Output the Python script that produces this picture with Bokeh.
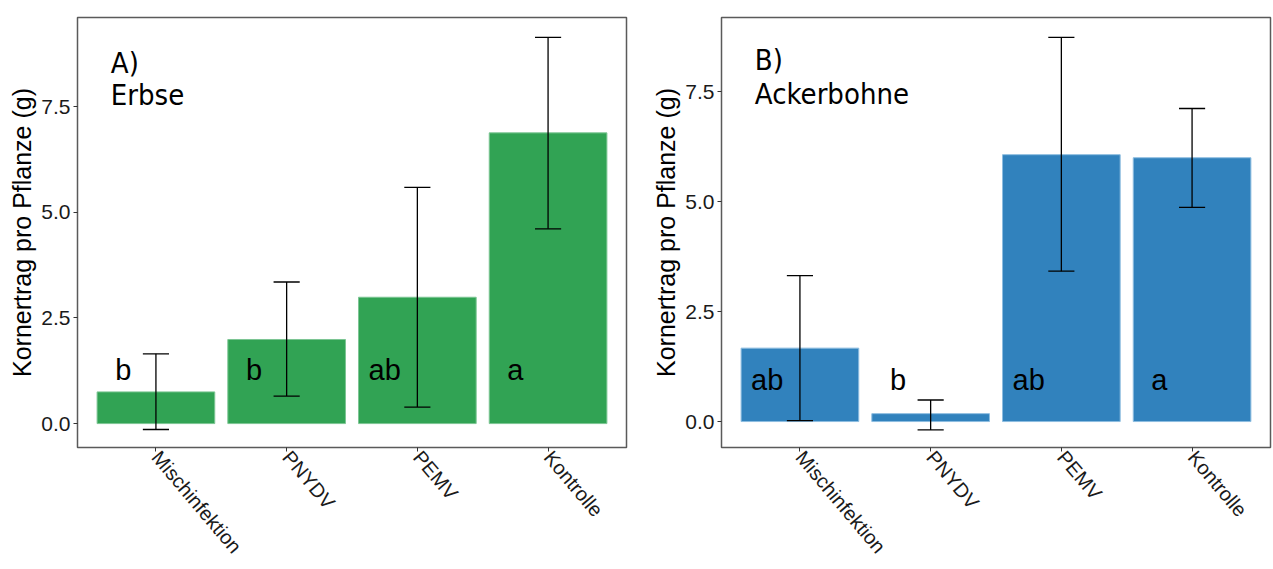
from bokeh.plotting import figure
from bokeh.layouts import row
from bokeh.models import Range1d, FixedTicker, ColumnDataSource
from bokeh.core.properties import value
from bokeh.embed import file_html
from bokeh.resources import INLINE

# Treatments on the x axis
categories = ["Mischinfektion", "PNYDV", "PEMV", "Kontrolle"]

# A) Erbse: mean grain yield per plant (g) with error bar limits
erbse_mean = [0.75, 1.99, 2.99, 6.88]
erbse_lower = [-0.14, 0.65, 0.39, 4.61]
erbse_upper = [1.65, 3.35, 5.59, 9.14]
erbse_letters = ["b", "b", "ab", "a"]

# B) Ackerbohne
bohne_mean = [1.67, 0.18, 6.07, 6.00]
bohne_lower = [0.02, -0.19, 3.42, 4.87]
bohne_upper = [3.32, 0.49, 8.74, 7.12]
bohne_letters = ["ab", "b", "ab", "a"]

y_ticks = [0.0, 2.5, 5.0, 7.5]
y_tick_labels = ["0.0", "2.5", "5.0", "7.5"]

Y_LABEL = "Kornertrag pro Pflanze (g)"
FONT = "Liberation Sans"
TAG_FONT = "DejaVu Sans Condensed"


def make_panel(mean, lower, upper, letters, tag, crop, fill, edge,
               y_lo, y_hi, letter_y, tag_y, crop_y,
               width, b_left, b_right, b_top, b_bottom):
    pos = list(range(1, len(categories) + 1))
    src = ColumnDataSource(dict(
        x=pos,
        top=mean,
        lo=lower,
        hi=upper,
        cap_l=[x - 0.1 for x in pos],
        cap_r=[x + 0.1 for x in pos],
        lx=[x - 0.25 for x in pos],
        letter=letters,
    ))

    p = figure(width=width, height=569,
               x_range=Range1d(0.4, 4.6), y_range=Range1d(y_lo, y_hi),
               output_backend="svg", toolbar_location=None,
               min_border_left=b_left, min_border_right=b_right,
               min_border_top=b_top, min_border_bottom=b_bottom,
               background_fill_color="white", border_fill_color="white")

    p.vbar(x="x", top="top", bottom=0, width=0.9, source=src,
           fill_color=fill, line_color=edge, line_width=1)

    # error bars with caps
    p.segment(x0="x", y0="lo", x1="x", y1="hi", source=src,
              line_color="black", line_width=1.3)
    p.segment(x0="cap_l", y0="hi", x1="cap_r", y1="hi", source=src,
              line_color="black", line_width=1.3)
    p.segment(x0="cap_l", y0="lo", x1="cap_r", y1="lo", source=src,
              line_color="black", line_width=1.3)

    # significance letters
    p.text(x="lx", y=letter_y, text="letter", source=src,
           text_font=value(FONT), text_font_size="29px",
           text_align="center", text_baseline="alphabetic",
           text_color="black")

    # panel tag and crop name
    p.text(x=[0.655], y=[tag_y], text=[tag],
           text_font=value(TAG_FONT), text_font_size="29px",
           text_align="left", text_baseline="alphabetic", text_color="black")
    p.text(x=[0.655], y=[crop_y], text=[crop],
           text_font=value(TAG_FONT), text_font_size="29px",
           text_align="left", text_baseline="alphabetic", text_color="black")

    p.xgrid.visible = False
    p.ygrid.visible = False
    p.outline_line_color = "#5a5a5a"
    p.outline_line_width = 1.5

    p.xaxis.ticker = FixedTicker(ticks=pos)
    p.xaxis.major_label_overrides = {x: c for x, c in zip(pos, categories)}
    p.xaxis.major_label_orientation = -0.87
    p.xaxis.major_label_text_font_size = "20px"
    p.xaxis.major_label_standoff = 2

    p.yaxis.ticker = FixedTicker(ticks=y_ticks)
    p.yaxis.major_label_overrides = {t: s for t, s in zip(y_ticks, y_tick_labels)}
    p.yaxis.major_label_text_font_size = "21px"
    p.yaxis.major_label_standoff = 3
    p.yaxis.axis_label = Y_LABEL
    p.yaxis.axis_label_text_font = FONT
    p.yaxis.axis_label_text_font_size = "25px"
    p.yaxis.axis_label_text_font_style = "normal"
    p.yaxis.axis_label_text_color = "black"
    p.yaxis.axis_label_standoff = 2

    for ax in (p.xaxis, p.yaxis):
        ax.axis_line_color = None
        ax.major_tick_line_color = "#333333"
        ax.major_tick_out = 4
        ax.major_tick_in = 0
        ax.minor_tick_line_color = None
        ax.major_label_text_font = FONT
        ax.major_label_text_color = "#1a1a1a"
    return p


p1 = make_panel(erbse_mean, erbse_lower, erbse_upper, erbse_letters,
                "A)", "Erbse", "#31A354", "#7cc593",
                -0.566, 9.61, 1.27, 8.53, 7.77,
                640, 77, 14, 15, 122)
p2 = make_panel(bohne_mean, bohne_lower, bohne_upper, bohne_letters,
                "B)", "Ackerbohne", "#3182BD", "#8dbde0",
                -0.59, 9.19, 0.95, 8.22, 7.44,
                633, 81, 3, 17, 120)

layout = row(p1, p2)
open("out.html", "w").write(file_html(layout, INLINE))
